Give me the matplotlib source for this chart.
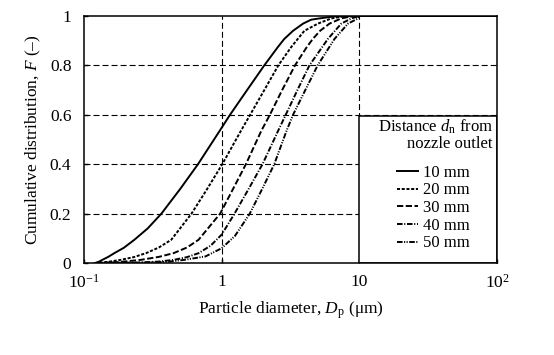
import matplotlib
matplotlib.use("Agg")
import matplotlib.pyplot as plt
from matplotlib.patches import Rectangle

plt.rcParams['font.family'] = ['Liberation Serif', 'DejaVu Serif']
plt.rcParams['mathtext.fontset'] = 'custom'
plt.rcParams['mathtext.rm'] = 'Liberation Serif'
plt.rcParams['mathtext.it'] = 'Liberation Serif:italic'
plt.rcParams['lines.scale_dashes'] = False

# ---- data ----
labels = ["10 mm", "20 mm", "30 mm", "40 mm", "50 mm"]
legend_title = "Distance $d_\\mathrm{n}$ from\nnozzle outlet"

x10 = [0.12, 0.128, 0.136, 0.15, 0.166, 0.195, 0.232, 0.29, 0.365, 0.50, 0.673, 0.967, 1.15,
       1.53, 2.04, 2.55, 2.85, 3.30, 3.90, 4.47, 5.11, 6.5, 10, 100]
F10 = [0.0, 0.005, 0.013, 0.025, 0.04, 0.062, 0.094, 0.14, 0.2, 0.3, 0.4, 0.535, 0.6,
       0.7, 0.8, 0.873, 0.907, 0.94, 0.969, 0.985, 0.99, 0.998, 1.0, 1.0]

x20 = [0.12, 0.15, 0.185, 0.23, 0.282, 0.35, 0.43, 0.604, 0.785, 1.01, 1.38, 1.61,
       2.04, 2.58, 3.19, 3.57, 3.99, 5.0, 6.25, 7.6, 10, 100]
F20 = [0.0, 0.005, 0.013, 0.024, 0.04, 0.063, 0.094, 0.2, 0.3, 0.4, 0.535, 0.6,
       0.7, 0.8, 0.873, 0.907, 0.94, 0.969, 0.99, 0.998, 1.0, 1.0]

x30 = [0.12, 0.18, 0.259, 0.35, 0.447, 0.56, 0.679, 0.975, 1.21, 1.50, 1.94, 2.24,
       2.75, 3.41, 4.14, 4.59, 5.19, 6.07, 7.39, 8.7, 10, 100]
F30 = [0.0, 0.004, 0.013, 0.025, 0.04, 0.063, 0.094, 0.2, 0.3, 0.4, 0.535, 0.6,
       0.7, 0.8, 0.873, 0.907, 0.94, 0.969, 0.99, 0.998, 1.0, 1.0]

x40 = [0.12, 0.25, 0.35, 0.45, 0.56, 0.68, 0.83, 1.0, 1.24, 1.57, 1.98, 2.57, 2.92,
       3.55, 4.34, 5.91, 7.39, 8.75, 10, 100]
F40 = [0.0, 0.002, 0.006, 0.013, 0.024, 0.04, 0.07, 0.115, 0.2, 0.3, 0.4, 0.535, 0.6,
       0.7, 0.8, 0.907, 0.969, 0.99, 1.0, 1.0]

x50 = [0.12, 0.30, 0.42, 0.537, 0.764, 1.0, 1.25, 1.60, 1.97, 2.41, 2.96, 3.30,
       4.05, 4.98, 6.60, 8.27, 9.79, 10, 100]
F50 = [0.0, 0.002, 0.006, 0.013, 0.027, 0.06, 0.11, 0.2, 0.3, 0.4, 0.535, 0.6,
       0.7, 0.8, 0.907, 0.969, 0.99, 1.0, 1.0]

xticks = [0.1, 1, 10, 100]
xticklabels = ["10$^{-1}$", "1", "10", "10$^{2}$"]
yticks = [0, 0.2, 0.4, 0.6, 0.8, 1.0]
yticklabels = ["0", "0.2", "0.4", "0.6", "0.8", "1"]

styles = [
    '-',
    (0, (2.2, 1.2)),
    (0, (4.5, 1.8)),
    (0, (4.0, 1.2, 0.8, 1.2)),
    (0, (4.0, 1.1, 0.8, 1.0, 0.8, 1.1)),
]

fig = plt.figure(figsize=(5.54, 3.55), dpi=100)
ax = fig.add_axes([0.1516, 0.259, 0.7455, 0.696])

ax.set_xscale('log')
ax.set_xlim(0.1, 100)
ax.set_ylim(0, 1)

# grid
for gy in [0.2, 0.4, 0.6, 0.8]:
    ax.axhline(gy, color='black', lw=0.8, linestyle=(0, (4.3, 2.2)), zorder=1)
for gx in [1, 10]:
    ax.axvline(gx, color='black', lw=0.8, linestyle=(0, (4.3, 2.2)), zorder=1)

# legend background box
ax.add_patch(Rectangle((10, 0), 90, 0.595, facecolor='white', edgecolor='black',
                       lw=1.1, zorder=2))

series = [(x10, F10), (x20, F20), (x30, F30), (x40, F40), (x50, F50)]
handles = []
for (xs, fs), ls, lab in zip(series, styles, labels):
    h, = ax.plot(xs, fs, color='black', lw=1.4, linestyle=ls, label=lab, zorder=3)
    handles.append(h)

for s in ax.spines.values():
    s.set_linewidth(1.1)
    s.set_zorder(4)

ax.set_xticks(xticks)
ax.set_xticklabels(xticklabels)
ax.minorticks_off()
ax.set_yticks(yticks)
ax.set_yticklabels(yticklabels)
ax.tick_params(direction='in', length=3, width=1.0, labelsize=12.5, pad=9)
ax.tick_params(axis='x', pad=8)
ax.tick_params(top=False, right=False)

ax.set_xlabel(r"Particle diameter, $D_\mathrm{p}$ (μm)", fontsize=12.5, labelpad=5)
ax.set_ylabel(r"Cumulative distribution, $F$ (–)", fontsize=12.5, labelpad=5)

# legend title as text
ax.text(0.990, 0.590, legend_title, transform=ax.transAxes, ha='right', va='top',
        multialignment='right', fontsize=12, linespacing=1.0, zorder=5)

leg = ax.legend(handles=handles, loc='upper left', bbox_to_anchor=(0.757, 0.398),
                bbox_transform=ax.transAxes, frameon=False, fontsize=12,
                handlelength=1.3, handletextpad=0.3, labelspacing=0.1,
                borderaxespad=0, borderpad=0.0)
leg.set_zorder(5)

fig.savefig("out.png", dpi=100)
